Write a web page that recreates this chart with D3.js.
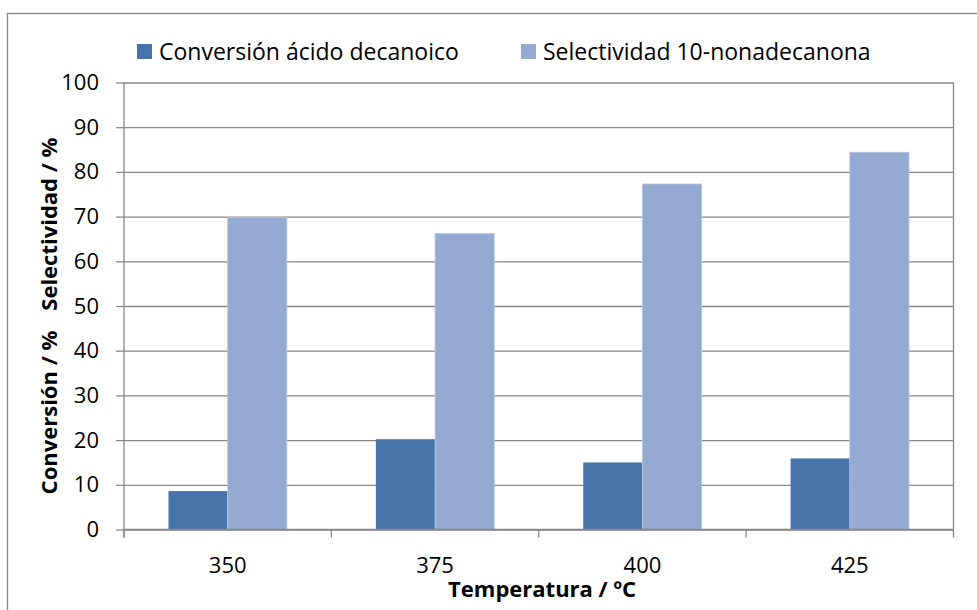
<!DOCTYPE html>
<html>
<head>
<meta charset="utf-8">
<script src="https://cdn.jsdelivr.net/npm/d3@7"></script>
<style>
  html, body { margin: 0; padding: 0; background: #fff; }
  svg { display: block; font-family: "Open Sans", "Noto Sans", sans-serif; }
</style>
</head>
<body>
<svg id="chart" width="977" height="610"></svg>
<script>
// Temperature categories (ºC)
const temperatures = ["350", "375", "400", "425"];
// Series names shown in the legend
const seriesNames = ["Conversión ácido decanoico", "Selectividad 10-nonadecanona"];
// Conversion of decanoic acid (%)
const conversion = [8.6, 20.2, 15.0, 15.9];
// Selectivity to 10-nonadecanone (%)
const selectivity = [69.8, 66.2, 77.3, 84.4];
// Y-axis tick values
const yTicks = [0, 10, 20, 30, 40, 50, 60, 70, 80, 90, 100];

const colors = ["#4673A8", "#95AAD1"];
const gridColor = "#878787";

const svg = d3.select("#chart");
const plot = { left: 124, right: 953.5, top: 82.5, bottom: 529.5 };

// Outer chart frame (continues past the right and bottom edges)
svg.append("rect")
  .attr("x", 7.5).attr("y", 13.5)
  .attr("width", 1000).attr("height", 700)
  .attr("fill", "none").attr("stroke", gridColor).attr("stroke-width", 1.3);

const x0 = d3.scaleBand().domain(temperatures).range([plot.left, plot.right]).padding(0);
const groupWidth = x0.bandwidth() * 0.571;
const x1 = d3.scaleBand().domain(seriesNames)
  .range([(x0.bandwidth() - groupWidth) / 2, (x0.bandwidth() + groupWidth) / 2]).padding(0);
const y = d3.scaleLinear().domain([0, 100]).range([plot.bottom, plot.top]);

// Horizontal gridlines with left tick marks and labels
const yAxis = d3.axisLeft(y).tickValues(yTicks).tickSize(8).tickPadding(17).tickFormat(d3.format("d"));
const yg = svg.append("g").attr("transform", `translate(${plot.left},0)`).call(yAxis);
yg.select(".domain").remove();
yg.selectAll(".tick line").attr("stroke", gridColor).attr("stroke-width", 1.3);
yg.selectAll(".tick text").attr("fill", "#000").attr("font-size", 22)
  .attr("font-family", "'Open Sans', sans-serif");
yg.selectAll(".tick").append("line")
  .attr("x1", 0).attr("x2", plot.right - plot.left)
  .attr("stroke", gridColor).attr("stroke-width", 1.3);

// Plot area vertical edges
svg.append("line").attr("x1", plot.left).attr("x2", plot.left)
  .attr("y1", plot.top).attr("y2", plot.bottom + 8)
  .attr("stroke", gridColor).attr("stroke-width", 1.3);
svg.append("line").attr("x1", plot.right).attr("x2", plot.right)
  .attr("y1", plot.top).attr("y2", plot.bottom)
  .attr("stroke", gridColor).attr("stroke-width", 1.3);

// Bars
const data = temperatures.map((t, i) => ({ t, values: [conversion[i], selectivity[i]] }));
const groups = svg.append("g").selectAll("g").data(data).join("g")
  .attr("transform", d => `translate(${x0(d.t)},0)`);
groups.selectAll("rect")
  .data(d => d.values.map((v, k) => ({ name: seriesNames[k], v, k })))
  .join("rect")
  .attr("x", d => x1(d.name))
  .attr("width", x1.bandwidth())
  .attr("y", d => y(d.v))
  .attr("height", d => y(0) - y(d.v))
  .attr("fill", d => colors[d.k])
  .attr("stroke", d => d.k === 1 ? "#B7C7E5" : "none")
  .attr("stroke-width", 0.8);

// Category axis: baseline, ticks between categories, labels
svg.append("line").attr("x1", plot.left).attr("x2", plot.right)
  .attr("y1", y(0)).attr("y2", y(0))
  .attr("stroke", gridColor).attr("stroke-width", 1.3);
const boundaries = temperatures.map(t => x0(t)).concat([x0.range()[1]]);
svg.append("g").selectAll("line").data(boundaries).join("line")
  .attr("x1", d => d).attr("x2", d => d)
  .attr("y1", y(0)).attr("y2", y(0) + 8)
  .attr("stroke", gridColor).attr("stroke-width", 1.3);
svg.append("g").selectAll("text").data(temperatures).join("text")
  .attr("x", d => x0(d) + x0.bandwidth() / 2)
  .attr("y", 573)
  .attr("text-anchor", "middle")
  .attr("font-size", 22)
  .text(d => d);

// Axis titles
svg.append("text")
  .attr("x", 542).attr("y", 597)
  .attr("text-anchor", "middle")
  .attr("font-size", 22).attr("font-weight", "bold")
  .text("Temperatura / ºC");

const yTitle = svg.append("text")
  .attr("transform", "translate(57,316) rotate(-90)")
  .attr("text-anchor", "middle")
  .attr("font-size", 22).attr("font-weight", "bold");
yTitle.append("tspan").text("Conversión / %");
yTitle.append("tspan").attr("dx", 20).text("Selectividad / %");

// Legend
const legendX = [137, 521];
const legend = svg.append("g").selectAll("g").data(seriesNames).join("g")
  .attr("transform", (d, i) => `translate(${legendX[i]},44)`);
legend.append("rect").attr("width", 15).attr("height", 15)
  .attr("fill", (d, i) => colors[i]);
legend.append("text").attr("x", 22).attr("y", 16)
  .attr("font-size", 23)
  .text(d => d);
</script>
</body>
</html>
